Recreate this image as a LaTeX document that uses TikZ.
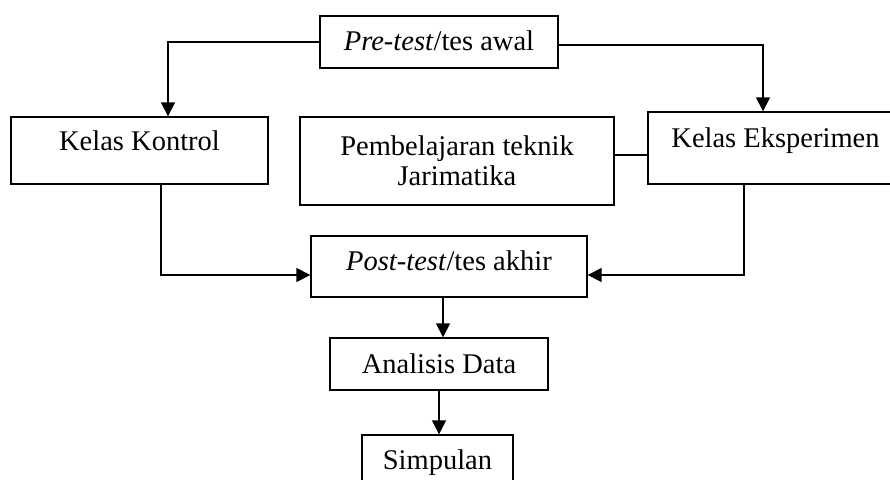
\documentclass[tikz,border=0pt]{standalone}
\usepackage{fontspec}
\setmainfont{Liberation Serif}
\usetikzlibrary{arrows.meta}

\begin{document}
\begin{tikzpicture}[x=1pt,y=-1pt,
    kotak/.style={draw,line width=1.4pt,inner sep=0pt,font=\fontsize{28.5}{30}\selectfont},
    panah/.style={line width=1.5pt,-{Triangle[width=14pt,length=14pt]}}]
    \useasboundingbox (0,0) rectangle (890,479);
    \node[kotak,minimum width=238,text height=34,text depth=18] (pre) at (439,42) {\textit{Pre-test}/tes awal};
    \node[kotak,minimum width=257,text height=33,text depth=34] (kontrol) at (139.5,150.5) {Kelas Kontrol};
    \node[kotak,minimum width=314,minimum height=88,align=center] (jarimatika) at (457,161) {Pembelajaran teknik\\Jarimatika};
    \node[kotak,minimum width=255,text height=35,text depth=37] (eksperimen) at (775.5,148) {Kelas Eksperimen};
    \node[kotak,minimum width=276,text height=34,text depth=27] (post) at (449,266.5) {\textit{Post-test}/tes akhir};
    \node[kotak,minimum width=218,text height=35,text depth=17] (analisis) at (439,364) {Analisis Data};
    \node[kotak,minimum width=151,text height=34,text depth=22] (simpulan) at (437.5,463) {Simpulan};%
    \draw[panah] (pre.west) -| ([xshift=28.5pt]kontrol.north);
    \draw[panah] ([yshift=-3pt]pre.east) -| ([xshift=-12.5pt]eksperimen.north);
    \draw[line width=1.3pt] ([yshift=6pt]jarimatika.east) -- ([yshift=6pt]jarimatika.east -| eksperimen.west);%
    \draw[panah] ([xshift=21.5pt]kontrol.south) |- ([yshift=-8.5pt]post.west);
    \draw[panah] ([xshift=-31.5pt]eksperimen.south) |- ([yshift=-8.5pt]post.east);%
    \draw[panah] ([xshift=4pt]analisis.north |- post.south) -- ([xshift=4pt]analisis.north);
    \draw[panah] (analisis.south) -- (analisis.south |- simpulan.north);
\end{tikzpicture}
\end{document}
